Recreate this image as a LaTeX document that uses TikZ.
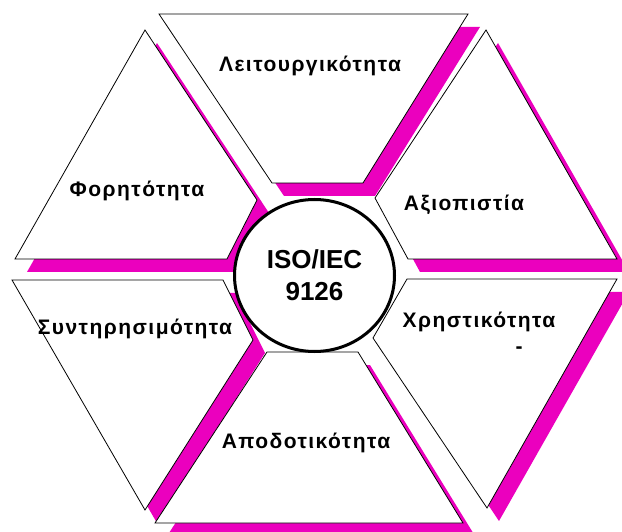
\documentclass[tikz,border=0pt]{standalone}
\usepackage{fontspec}
\setmainfont{Liberation Sans}
\usetikzlibrary{shapes.geometric}
\definecolor{pinkshadow}{RGB}{235,0,190}

\begin{document}
\begin{tikzpicture}[x=1pt,y=-1pt,
  piece/.style={draw=black,fill=white,line width=0.8pt},
  shadow/.style={fill=pinkshadow},
  quality/.style={font=\bfseries\fontsize{21}{24}\selectfont\addfontfeature{LetterSpace=7}},
  hub/.style={ellipse,draw=black,fill=white,line width=3pt,
    minimum width=160pt,minimum height=152pt,align=center,
    font=\bfseries\fontsize{26}{32}\selectfont}]
\clip (0,0) rectangle (622,532);

%%%%%%%%% shadows
\begin{scope}[shift={(12,13)}]
\fill[shadow] (159,14) -- (468,14) -- (363,183) -- (272,183) -- cycle;
\fill[shadow] (145,30) -- (257,200) -- (227,259) -- (15,259) -- cycle;
\fill[shadow] (486,30) -- (617,259) -- (408,259) -- (375,198) -- cycle;
\fill[shadow] (12,280) -- (223,280) -- (253,340) -- (145,510) -- cycle;
\fill[shadow] (407,279) -- (617,279) -- (487,508) -- (373,338) -- cycle;
\fill[shadow] (267,352) -- (358,352) -- (463,523) -- (155,523) -- cycle;
\end{scope}

%%%%%%%%% pieces
\draw[piece] (159,14) -- (468,14) -- (363,183) -- (272,183) -- cycle;
\draw[piece] (145,30) -- (257,200) -- (227,259) -- (15,259) -- cycle;
\draw[piece] (486,30) -- (617,259) -- (408,259) -- (375,198) -- cycle;
\draw[piece] (12,280) -- (223,280) -- (253,340) -- (145,510) -- cycle;
\draw[piece] (407,279) -- (617,279) -- (487,508) -- (373,338) -- cycle;
\draw[piece] (267,352) -- (358,352) -- (463,523) -- (155,523) -- cycle;

%%%%%%%%% labels
\node[quality] (func) at (310,66) {Λειτουργικότητα};
\node[quality] (port) at (137,191) {Φορητότητα};
\node[quality] (reli) at (464,205) {Αξιοπιστία};
\node[quality] (main) at (135,329) {Συντηρησιμότητα};
\node[quality] (usab) at (479,322) {Χρηστικότητα};
\node[quality] (dash) at (519,350) {-};
\node[quality] (effi) at (306,443) {Αποδοτικότητα};

%%%%%%%%% centre
\node[hub] (iso) at (314.5,275.5) {ISO/IEC\\9126};
\end{tikzpicture}
\end{document}
